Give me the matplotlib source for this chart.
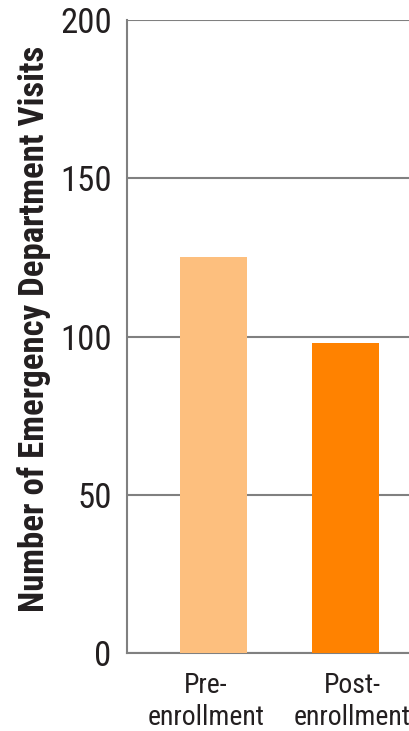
import matplotlib
matplotlib.use("Agg")
import matplotlib.pyplot as plt
from matplotlib.transforms import offset_copy

# Data
categories = ["Pre-\nenrollment", "Post-\nenrollment"]
visits = [125, 98]
bar_colors = ["#FDBF7E", "#FF8200"]
yticks = [0, 50, 100, 150, 200]

plt.rcParams["font.family"] = ["Roboto Condensed", "DejaVu Sans"]

text_color = "#231F20"
grid_color = "#808080"

fig = plt.figure(figsize=(4.10, 7.31), dpi=100)
ax = fig.add_axes([0.3098, 0.1067, 0.6902, 0.8659])

x = list(range(len(categories)))
ax.bar(x, visits, width=0.51, color=bar_colors, zorder=3)

ax.set_ylim(0, 200)
ax.set_xlim(-0.655, 1.489)
ax.set_yticks(yticks)
ax.set_yticklabels([str(t) for t in yticks], fontweight=400)

# category labels drawn as text so they can sit slightly off the bar centres
ax.set_xticks([])
for xi, cat, dx in zip(x, categories, [-5.4, 4.7]):
    tr = offset_copy(ax.get_xaxis_transform(), fig=fig, x=dx, y=-14, units="points")
    ax.text(xi, 0, cat, transform=tr, ha="center", va="top", fontsize=20,
            fontweight=400, color=text_color, linespacing=1.2)

ax.yaxis.grid(True, color=grid_color, linewidth=1.5, zorder=0)
ax.tick_params(axis="y", length=0, pad=11, labelsize=25, labelcolor=text_color)

for side in ["top", "right"]:
    ax.spines[side].set_visible(False)
for side in ["left", "bottom"]:
    ax.spines[side].set_color(grid_color)
    ax.spines[side].set_linewidth(1.5)

ax.set_ylabel("Number of Emergency Department Visits", fontsize=25,
              fontweight="bold", color=text_color)
ax.yaxis.set_label_coords(-0.27, 0.512)

fig.savefig("out.png", dpi=100)
